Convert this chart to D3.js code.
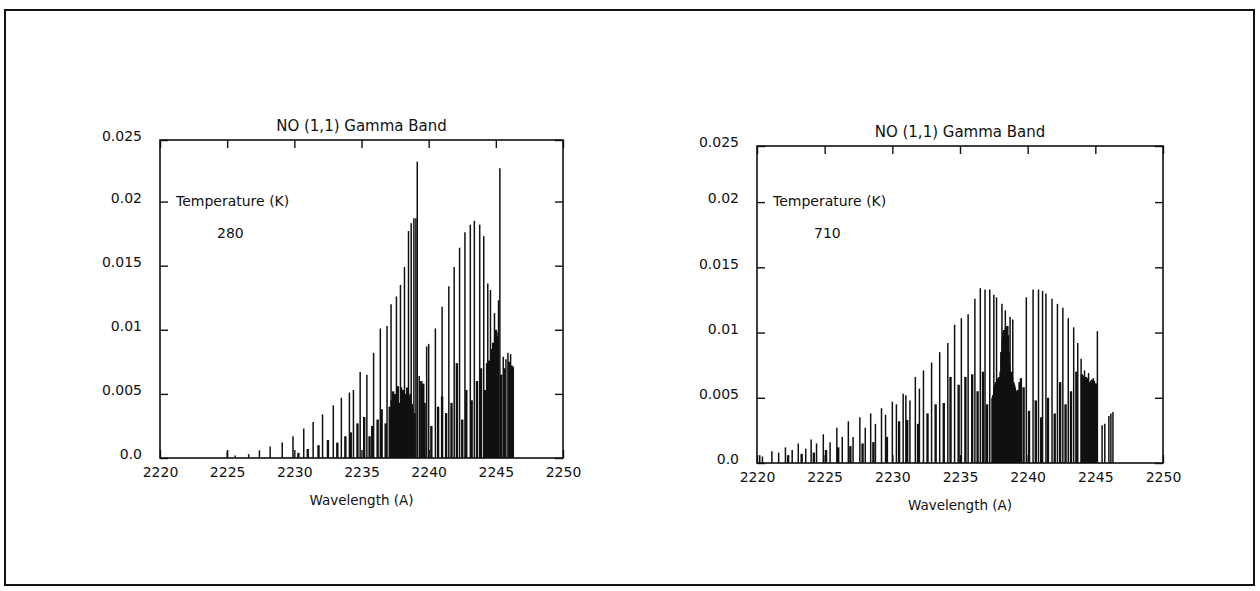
<!DOCTYPE html>
<html>
<head>
<meta charset="utf-8">
<script src="https://cdn.jsdelivr.net/npm/d3@7"></script>
<style>
  body { margin: 0; background: #fff; }
  text { font-family: "DejaVu Sans", sans-serif; fill: #111; }
</style>
</head>
<body>
<div id="chart"></div>
<script>
// Data ------------------------------------------------------------
const xTicks = [2220, 2225, 2230, 2235, 2240, 2245, 2250]
const yTicks = [0, 0.005, 0.01, 0.015, 0.02, 0.025]
const yTickLabels = ["0.0", "0.005", "0.01", "0.015", "0.02", "0.025"]

// 280 K : strong lines (wavelength A, intensity)
const wave280 = [2225.0, 2225.6, 2226.6, 2227.4, 2228.2, 2229.1, 2229.9, 2230.7, 2231.4, 2232.1,
  2232.9, 2233.5, 2234.1, 2234.4, 2234.9, 2235.4, 2235.9, 2236.4, 2236.9, 2237.2,
  2237.6, 2237.9, 2238.2, 2238.5, 2238.7, 2238.9, 2239.05, 2239.15, 2239.3, 2239.85,
  2240.0, 2240.5, 2241.0, 2241.5, 2241.9, 2242.3, 2242.7, 2243.1, 2243.4, 2243.8,
  2244.1, 2244.4, 2244.6, 2244.9, 2245.2, 2245.3, 2245.55, 2245.75, 2245.9, 2246.1, 2246.3]
const inten280 = [0.0005, 0.0002, 0.0003, 0.0006, 0.0009, 0.0012, 0.0017, 0.0023, 0.0028, 0.0034,
  0.0041, 0.0047, 0.0051, 0.0053, 0.0067, 0.0065, 0.0082, 0.0101, 0.0103, 0.0120,
  0.0126, 0.0135, 0.0149, 0.0177, 0.0183, 0.0187, 0.0187, 0.0231, 0.0064, 0.0087,
  0.0089, 0.0101, 0.0118, 0.0134, 0.0149, 0.0164, 0.0176, 0.0182, 0.0185, 0.0182,
  0.0173, 0.0136, 0.0131, 0.0113, 0.0123, 0.0226, 0.0079, 0.0077, 0.0082, 0.0081, 0.0071]

// 280 K : weak satellite lines
const wave280b = [2230.3, 2231.0, 2231.8, 2232.5, 2233.2, 2233.8, 2234.2, 2234.7, 2235.2, 2235.6,
  2235.8, 2236.2, 2236.5, 2236.8, 2237.1, 2237.25, 2237.35, 2237.4, 2237.5, 2237.55,
  2237.65, 2237.7, 2237.8, 2237.95, 2238.0, 2238.1, 2238.25, 2238.3, 2238.4, 2238.45,
  2238.55, 2238.6, 2238.65, 2238.75, 2238.8, 2238.95, 2239.45, 2239.5, 2239.6, 2239.7,
  2240.2, 2240.7, 2241.0, 2241.3, 2241.7, 2242.1, 2242.5, 2242.8, 2243.2, 2243.6,
  2243.9, 2244.2, 2244.35, 2244.5, 2244.65, 2244.7, 2244.8, 2244.95, 2245.0, 2245.05,
  2245.1, 2245.4, 2245.65, 2246.0, 2246.2]
const inten280b = [0.0004, 0.0007, 0.0010, 0.0014, 0.0012, 0.0017, 0.0020, 0.0027, 0.0032, 0.0017,
  0.0025, 0.0030, 0.0038, 0.0027, 0.0040, 0.0045, 0.0052, 0.0038, 0.0050, 0.0048,
  0.0050, 0.0056, 0.0043, 0.0055, 0.0050, 0.0053, 0.0050, 0.0043, 0.0055, 0.0052,
  0.0045, 0.0048, 0.0050, 0.0042, 0.0038, 0.0035, 0.0060, 0.0055, 0.0058, 0.0043,
  0.0025, 0.0040, 0.0048, 0.0035, 0.0043, 0.0074, 0.0030, 0.0053, 0.0045, 0.0060,
  0.0070, 0.0053, 0.0074, 0.0076, 0.0080, 0.0085, 0.0090, 0.0095, 0.0100, 0.0098,
  0.0095, 0.0065, 0.0070, 0.0075, 0.0072]

// 710 K : strong lines
const wave710 = [2220.2, 2220.4, 2221.1, 2221.6, 2222.1, 2222.6, 2223.05, 2223.6, 2224.0, 2224.4,
  2224.9, 2225.4, 2225.9, 2226.3, 2226.75, 2227.1, 2227.6, 2228.0, 2228.4, 2228.75,
  2229.2, 2229.5, 2230.0, 2230.3, 2230.8, 2231.0, 2231.3, 2231.7, 2232.0, 2232.3,
  2232.9, 2233.5, 2234.1, 2234.6, 2235.1, 2235.6, 2236.1, 2236.5, 2236.85, 2237.2,
  2237.5, 2237.7, 2238.1, 2238.35, 2238.7, 2238.9, 2239.9, 2240.4, 2240.8, 2241.1,
  2241.35, 2241.8, 2242.2, 2242.6, 2243.0, 2243.4, 2243.7, 2243.95, 2244.2, 2244.5,
  2244.85, 2245.15, 2245.5, 2245.7, 2246.0, 2246.15, 2246.3]
const inten710 = [0.0006, 0.0005, 0.0009, 0.0008, 0.0012, 0.0010, 0.0015, 0.0011, 0.0018, 0.0015,
  0.0022, 0.0016, 0.0027, 0.0020, 0.0032, 0.0020, 0.0035, 0.0027, 0.0038, 0.0030,
  0.0042, 0.0037, 0.0047, 0.0045, 0.0053, 0.0052, 0.0048, 0.0066, 0.0057, 0.0071,
  0.0077, 0.0085, 0.0092, 0.0106, 0.0111, 0.0114, 0.0126, 0.0134, 0.0133, 0.0133,
  0.0129, 0.0127, 0.0122, 0.0117, 0.0112, 0.0110, 0.0127, 0.0133, 0.0133, 0.0132,
  0.0130, 0.0126, 0.0122, 0.0119, 0.0111, 0.0104, 0.0092, 0.0080, 0.0071, 0.0069,
  0.0065, 0.0101, 0.0029, 0.0030, 0.0036, 0.0038, 0.0039]

// 710 K : weak satellite lines
const wave710b = [2222.3, 2223.3, 2224.2, 2225.1, 2226.0, 2226.9, 2227.8, 2228.6, 2229.6, 2230.5,
  2231.1, 2231.9, 2232.6, 2233.2, 2233.8, 2234.3, 2234.9, 2235.4, 2235.9, 2236.3,
  2236.7, 2237.0, 2237.4, 2237.45, 2237.55, 2237.6, 2237.65, 2237.75, 2237.85, 2237.9,
  2238.0, 2238.05, 2238.15, 2238.2, 2238.25, 2238.3, 2238.4, 2238.45, 2238.5, 2238.55,
  2238.6, 2238.65, 2238.75, 2238.8, 2238.85, 2238.95, 2239.0, 2239.05, 2239.1, 2239.2,
  2239.3, 2239.4, 2239.5, 2239.7, 2240.1, 2240.6, 2241.0, 2241.5, 2242.0, 2242.4,
  2242.8, 2243.2, 2243.6, 2244.0, 2244.1, 2244.15, 2244.3, 2244.4, 2244.45, 2244.6,
  2244.7, 2244.75, 2244.9, 2245.0, 2245.05]
const inten710b = [0.0006, 0.0007, 0.0008, 0.0010, 0.0012, 0.0013, 0.0015, 0.0016, 0.0020, 0.0032,
  0.0033, 0.0030, 0.0038, 0.0045, 0.0046, 0.0066, 0.0060, 0.0066, 0.0068, 0.0055,
  0.0070, 0.0045, 0.0050, 0.0052, 0.0058, 0.0060, 0.0062, 0.0065, 0.0064, 0.0066,
  0.0070, 0.0085, 0.0095, 0.0100, 0.0102, 0.0100, 0.0104, 0.0103, 0.0105, 0.0098,
  0.0085, 0.0075, 0.0068, 0.0070, 0.0066, 0.0062, 0.0060, 0.0058, 0.0056, 0.0055,
  0.0056, 0.0062, 0.0065, 0.0058, 0.0040, 0.0048, 0.0035, 0.0050, 0.0038, 0.0062,
  0.0045, 0.0055, 0.0070, 0.0068, 0.0066, 0.0067, 0.0066, 0.0065, 0.0064, 0.0062,
  0.0063, 0.0064, 0.0063, 0.0060, 0.0061]

// Canvas ----------------------------------------------------------
const WIDTH = 1260, HEIGHT = 591

const svg = d3.select("#chart").append("svg")
  .attr("width", WIDTH)
  .attr("height", HEIGHT)

// page border
svg.append("rect")
  .attr("x", 5).attr("y", 10)
  .attr("width", 1249).attr("height", 575)
  .attr("fill", "none")
  .attr("stroke", "#111")
  .attr("stroke-width", 2)

const panels = [
  { left: 160, right: 563, top: 140, bottom: 458, yMax: 0.0248, temp: "280",
    strong: [wave280, inten280], weak: [wave280b, inten280b] },
  { left: 757, right: 1163, top: 146, bottom: 463, yMax: 0.0243, temp: "710",
    strong: [wave710, inten710], weak: [wave710b, inten710b] }
]

panels.forEach(drawPanel)

function drawPanel(p) {
  const x = d3.scaleLinear().domain([2220, 2250]).range([p.left, p.right])
  const y = d3.scaleLinear().domain([0, p.yMax]).range([p.bottom, p.top]).clamp(true)

  const g = svg.append("g")

  // spectral lines
  const weak = p.weak[0].map((w, i) => ({ w: w, v: p.weak[1][i] }))
  const strong = p.strong[0].map((w, i) => ({ w: w, v: p.strong[1][i] }))

  g.selectAll(".weak").data(weak).enter().append("line")
    .attr("class", "weak")
    .attr("x1", d => x(d.w)).attr("x2", d => x(d.w))
    .attr("y1", y(0)).attr("y2", d => y(d.v))
    .attr("stroke", "#111")
    .attr("stroke-width", 2.4)

  g.selectAll(".strong").data(strong).enter().append("line")
    .attr("class", "strong")
    .attr("x1", d => x(d.w)).attr("x2", d => x(d.w))
    .attr("y1", y(0)).attr("y2", d => y(d.v))
    .attr("stroke", "#111")
    .attr("stroke-width", 1.5)

  // axes, ticks pointing inwards
  const axB = g.append("g")
    .attr("transform", `translate(0,${p.bottom})`)
    .call(d3.axisBottom(x).tickValues(xTicks).tickSize(-8).tickSizeOuter(0).tickPadding(9).tickFormat(d3.format("d")))
  const axT = g.append("g")
    .attr("transform", `translate(0,${p.top})`)
    .call(d3.axisTop(x).tickValues(xTicks).tickSize(-8).tickSizeOuter(0).tickFormat(""))
  const axL = g.append("g")
    .attr("transform", `translate(${p.left},0)`)
    .call(d3.axisLeft(y).tickValues(yTicks).tickSize(-8).tickSizeOuter(0).tickPadding(18)
      .tickFormat((d, i) => yTickLabels[i]))
  const axR = g.append("g")
    .attr("transform", `translate(${p.right},0)`)
    .call(d3.axisRight(y).tickValues(yTicks).tickSize(-8).tickSizeOuter(0).tickFormat(""))

  ;[axB, axT, axL, axR].forEach(a => {
    a.select(".domain").remove()
    a.selectAll("line").attr("stroke", "#111").attr("stroke-width", 1.4)
    a.selectAll("text").attr("font-size", 14).attr("font-family", "DejaVu Sans").attr("fill", "#111")
  })
  axL.selectAll("text").attr("dy", "0.05em")

  // frame
  g.append("rect")
    .attr("x", p.left).attr("y", p.top)
    .attr("width", p.right - p.left).attr("height", p.bottom - p.top)
    .attr("fill", "none")
    .attr("stroke", "#111")
    .attr("stroke-width", 1.6)

  // labels
  g.append("text")
    .attr("x", (p.left + p.right) / 2).attr("y", p.top - 9)
    .attr("text-anchor", "middle")
    .attr("font-size", 15)
    .text("NO (1,1) Gamma Band")

  g.append("text")
    .attr("x", (p.left + p.right) / 2).attr("y", p.bottom + 47)
    .attr("text-anchor", "middle")
    .attr("font-size", 13.5)
    .text("Wavelength (A)")

  g.append("text")
    .attr("x", p.left + 16).attr("y", y(0.02) + 4)
    .attr("font-size", 14)
    .text("Temperature (K)")

  g.append("text")
    .attr("x", p.left + 57).attr("y", y(0.02) + 36)
    .attr("font-size", 14)
    .text(p.temp)
}
</script>
</body>
</html>
